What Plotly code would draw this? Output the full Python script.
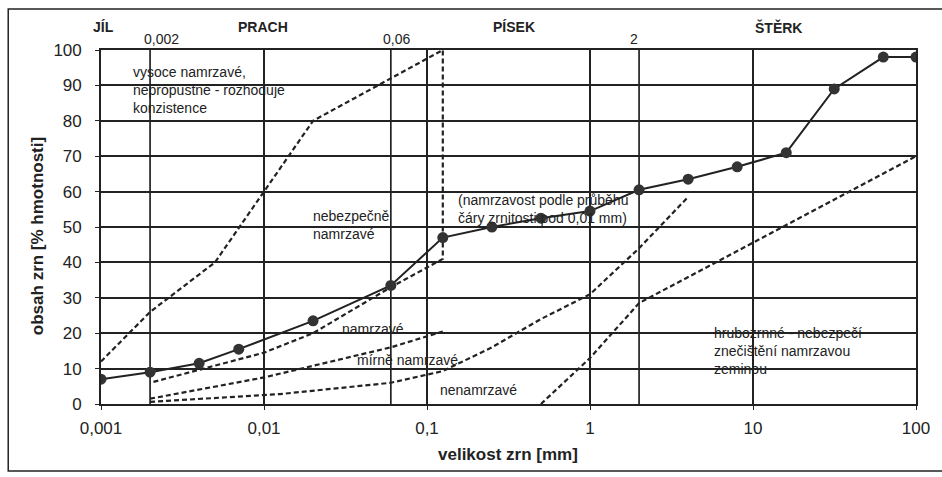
import plotly.graph_objects as go

# grain size distribution curve (sieve analysis)
grain_mm = [0.001, 0.002, 0.004, 0.007, 0.02, 0.06, 0.125, 0.25, 0.5, 1, 2, 4, 8, 16, 31.5, 63, 100]
passing = [7, 9, 11.5, 15.5, 23.5, 33.5, 47, 50, 52.5, 54.5, 60.5, 63.5, 67, 71, 89, 98, 98]

# frost susceptibility zone boundaries (dashed)
zone_a_x = [0.001, 0.002, 0.005, 0.02, 0.125, 0.125, 0.06, 0.02, 0.01, 0.002]
zone_a_y = [12, 26, 40, 80, 100, 41, 33, 20, 14.5, 6]
zone_b_x = [0.002, 0.01, 0.06, 0.125]
zone_b_y = [1.5, 7.5, 16, 20.5]
zone_c_x = [0.002, 0.0125, 0.06, 0.125, 0.25, 0.5, 1, 2, 4]
zone_c_y = [0.6, 2.8, 6, 9.3, 16, 24, 31, 44, 58.5]
zone_d_x = [0.5, 1, 2, 100]
zone_d_y = [0, 13, 28.5, 70]

# fraction boundaries
fraction_limits = [0.002, 0.06, 2]
fraction_labels = ["0,002", "0,06", "2"]

x_ticks = [0.001, 0.01, 0.1, 1, 10, 100]
x_ticktext = ["0,001", "0,01", "0,1", "1", "10", "100"]
y_ticks = list(range(0, 101, 10))

INK = "#222222"
FONT = "Liberation Sans, Arial, sans-serif"

# plot area in pixels (for placing text)
L, R, T, B = 101, 918, 50, 404


def px(x):
    return (x - L) / (R - L)


def py(y):
    return (B - y) / (B - T)


fig = go.Figure()

# fraction boundary lines
for b in fraction_limits:
    fig.add_trace(go.Scatter(x=[b, b], y=[0, 100], mode="lines",
                             line=dict(color=INK, width=1.7), hoverinfo="skip"))

dash = dict(color=INK, width=2.2, dash="5px,3px")
for zx, zy in [(zone_a_x, zone_a_y), (zone_b_x, zone_b_y),
               (zone_c_x, zone_c_y), (zone_d_x, zone_d_y)]:
    fig.add_trace(go.Scatter(x=zx, y=zy, mode="lines", line=dash, hoverinfo="skip"))

fig.add_trace(go.Scatter(
    x=grain_mm, y=passing, mode="lines+markers",
    line=dict(color=INK, width=2),
    marker=dict(size=11, color="#333333"),
))

fig.update_layout(
    width=942, height=477,
    margin=dict(l=L, r=942 - R, t=T, b=477 - B),
    paper_bgcolor="white", plot_bgcolor="white",
    showlegend=False,
    font=dict(family=FONT, color=INK),
)

fig.update_xaxes(
    type="log", range=[-3, 2],
    tickvals=x_ticks, ticktext=x_ticktext,
    tickfont=dict(size=17), ticks="outside", ticklen=4, tickcolor=INK,
    showgrid=True, gridcolor=INK, gridwidth=1.5,
    showline=True, linecolor=INK, linewidth=1.7, mirror=True,
    zeroline=False, ticklabelstandoff=4,
)
fig.update_yaxes(
    range=[0, 100], tickvals=y_ticks,
    tickfont=dict(size=17), ticks="outside", ticklen=4, tickcolor=INK,
    showgrid=True, gridcolor=INK, gridwidth=1.5,
    showline=True, linecolor=INK, linewidth=1.7, mirror=True,
    zeroline=False, ticklabelstandoff=10,
)

# outer frame
fig.add_shape(type="rect", xref="paper", yref="paper",
              x0=px(8), x1=px(945), y0=py(471), y1=py(9),
              line=dict(color=INK, width=1.5), layer="below")


def label(txt, x, y, size=14, xanchor="center", **kw):
    fig.add_annotation(text=txt, xref="paper", yref="paper", x=px(x), y=py(y),
                       xanchor=xanchor, yanchor="middle", showarrow=False,
                       font=dict(size=size), **kw)


# fraction names and limits above the plot
for name, x in [("JÍL", 104), ("PRACH", 263), ("PÍSEK", 515), ("ŠTĚRK", 780)]:
    label("<b>%s</b>" % name, x, 27)
for lbl, x in zip(fraction_labels, [162, 397, 635]):
    label(lbl, x, 39)

# zone descriptions
zones = [
    ("vysoce namrzavé,<br>nepropustné - rozhoduje<br>konzistence", 131, 90),
    ("nebezpečně<br>namrzavé", 312, 225),
    ("(namrzavost podle průběhu<br>čáry zrnitosti pod 0,01 mm)", 457, 209),
    ("namrzavé", 341, 329),
    ("mírně namrzavé", 356, 360),
    ("nenamrzavé", 439, 390),
    ("hrubozrnné - nebezpečí<br>znečištění namrzavou<br>zeminou", 714, 351),
]
for txt, x, y in zones:
    label(txt, x, y, xanchor="left", align="left")

# axis titles
label("<b>velikost zrn [mm]</b>", 509, 454, size=17)
label("<b>obsah zrn [% hmotnosti]</b>", 38, 236, size=17, textangle=-90)

fig.write_html("out.html", config={"displayModeBar": False},
               post_script="document.body.style.margin='0';")
